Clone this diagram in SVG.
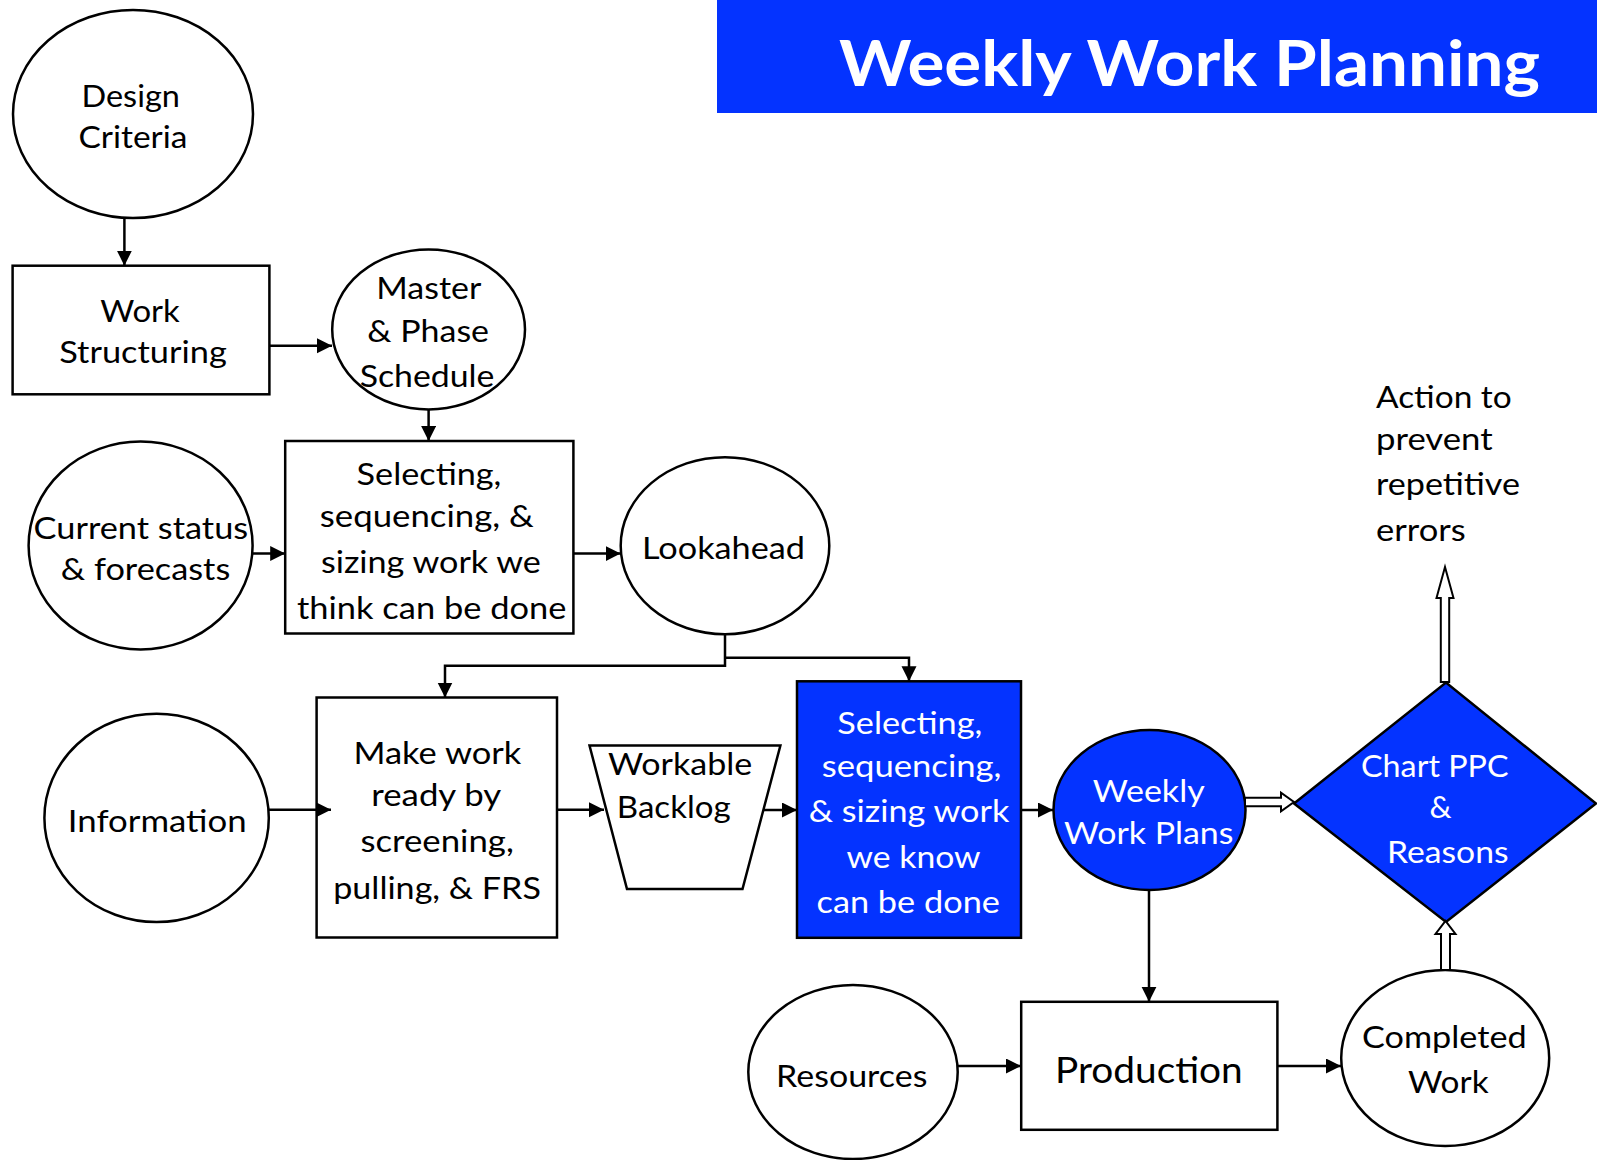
<svg xmlns="http://www.w3.org/2000/svg" width="1597" height="1160" viewBox="0 0 1597 1160">
<style>
.n{fill:#fff;stroke:#000;stroke-width:2.5}
.b{fill:#0433FF;stroke:#000;stroke-width:2.5}
.t{font-family:Lato,"Liberation Sans",sans-serif;font-size:31px;fill:#000;text-anchor:middle}
.w{fill:#fff}
.c{fill:none;stroke:#000;stroke-width:2.5}
.h{fill:#fff;stroke:#000;stroke-width:2;stroke-linejoin:miter}
</style>
<defs>
<marker id="ah" markerUnits="userSpaceOnUse" markerWidth="16" markerHeight="16" refX="15" refY="7.5" orient="auto" viewBox="0 0 16 16">
<path d="M0,0 L15,7.5 L0,15 z" fill="#000"/>
</marker>
</defs>
<rect width="1597" height="1160" fill="#fff"/>

<g id="title">
<rect x="717" y="0" width="880" height="113" fill="#0433FF"/>
<text x="1189.5" y="86" textLength="701" lengthAdjust="spacingAndGlyphs" style="font-family:Lato,'Liberation Sans',sans-serif;font-weight:bold;font-size:64px;fill:#fff;text-anchor:middle">Weekly Work Planning</text>
</g>

<g id="design-criteria">
<ellipse class="n" cx="133" cy="114" rx="120" ry="104"/>
<text class="t" x="130.7" y="106.7" textLength="98.4" lengthAdjust="spacingAndGlyphs">Design</text>
<text class="t" x="133" y="148.3" textLength="109" lengthAdjust="spacingAndGlyphs">Criteria</text>
</g>

<g id="work-structuring">
<rect class="n" x="12.6" y="265.7" width="256.8" height="128.6"/>
<text class="t" x="140" y="321.7" textLength="79.6" lengthAdjust="spacingAndGlyphs">Work</text>
<text class="t" x="143" y="363.3" textLength="167.6" lengthAdjust="spacingAndGlyphs">Structuring</text>
</g>

<g id="master-phase-schedule">
<ellipse class="n" cx="428.6" cy="329.4" rx="96.4" ry="80"/>
<text class="t" x="428.8" y="299" textLength="105" lengthAdjust="spacingAndGlyphs">Master</text>
<text class="t" x="428.2" y="342.3" textLength="121.7" lengthAdjust="spacingAndGlyphs">&amp; Phase</text>
<text class="t" x="427" y="386.7" textLength="134.7" lengthAdjust="spacingAndGlyphs">Schedule</text>
</g>

<g id="current-status">
<ellipse class="n" cx="140.6" cy="545.5" rx="112" ry="104"/>
<text class="t" x="140.9" y="538.8" textLength="214.6" lengthAdjust="spacingAndGlyphs">Current status</text>
<text class="t" x="145.5" y="580" textLength="169.6" lengthAdjust="spacingAndGlyphs">&amp; forecasts</text>
</g>

<g id="selecting-think">
<rect class="n" x="285.2" y="441" width="288.2" height="192.5"/>
<text class="t" x="429" y="485" textLength="144.8" lengthAdjust="spacingAndGlyphs">Selecting,</text>
<text class="t" x="426.8" y="527" textLength="214" lengthAdjust="spacingAndGlyphs">sequencing, &amp;</text>
<text class="t" x="430.9" y="573" textLength="220" lengthAdjust="spacingAndGlyphs">sizing work we</text>
<text class="t" x="431.7" y="619" textLength="269.4" lengthAdjust="spacingAndGlyphs">think can be done</text>
</g>

<g id="lookahead">
<ellipse class="n" cx="725" cy="545.7" rx="104.3" ry="88.5"/>
<text class="t" x="723.5" y="558.8" textLength="163" lengthAdjust="spacingAndGlyphs">Lookahead</text>
</g>

<g id="information">
<ellipse class="n" cx="156.6" cy="817.9" rx="112.2" ry="104.2"/>
<text class="t" x="157.2" y="832.2" textLength="178.8" lengthAdjust="spacingAndGlyphs">Information</text>
</g>

<g id="make-work-ready">
<rect class="n" x="316.6" y="697.5" width="240.4" height="240"/>
<text class="t" x="437.4" y="764.4" textLength="168" lengthAdjust="spacingAndGlyphs">Make work</text>
<text class="t" x="436.3" y="806" textLength="130" lengthAdjust="spacingAndGlyphs">ready by</text>
<text class="t" x="437.1" y="851.5" textLength="153.4" lengthAdjust="spacingAndGlyphs">screening,</text>
<text class="t" x="437.1" y="898.6" textLength="207.7" lengthAdjust="spacingAndGlyphs">pulling, &amp; FRS</text>
</g>

<g id="workable-backlog">
<polygon class="n" points="589.5,745.5 780.4,745.5 742.5,889 627,889"/>
<text class="t" x="680.1" y="774.7" textLength="144.3" lengthAdjust="spacingAndGlyphs">Workable</text>
<text class="t" x="673.7" y="817.7" textLength="113.8" lengthAdjust="spacingAndGlyphs">Backlog</text>
</g>

<g id="selecting-know">
<rect class="b" x="797" y="681.3" width="224" height="256.5"/>
<text class="t w" x="909.8" y="734" textLength="145" lengthAdjust="spacingAndGlyphs">Selecting,</text>
<text class="t w" x="911.6" y="777.3" textLength="179.8" lengthAdjust="spacingAndGlyphs">sequencing,</text>
<text class="t w" x="909" y="821.7" textLength="200.6" lengthAdjust="spacingAndGlyphs">&amp; sizing work</text>
<text class="t w" x="913.6" y="868.3" textLength="134" lengthAdjust="spacingAndGlyphs">we know</text>
<text class="t w" x="908.2" y="913.3" textLength="183.4" lengthAdjust="spacingAndGlyphs">can be done</text>
</g>

<g id="weekly-work-plans">
<ellipse class="b" cx="1149.5" cy="810" rx="96" ry="80"/>
<text class="t w" x="1148.7" y="801.7" textLength="112" lengthAdjust="spacingAndGlyphs">Weekly</text>
<text class="t w" x="1148.7" y="844.3" textLength="169.4" lengthAdjust="spacingAndGlyphs">Work Plans</text>
</g>

<g id="chart-ppc">
<polygon class="b" points="1294,803.5 1446,682.5 1596,803.5 1446,922"/>
<text class="t w" x="1434.8" y="776.7" textLength="147.5" lengthAdjust="spacingAndGlyphs">Chart PPC</text>
<text class="t w" x="1440.5" y="818.3">&amp;</text>
<text class="t w" x="1447.8" y="863.3" textLength="121.5" lengthAdjust="spacingAndGlyphs">Reasons</text>
</g>

<g id="action-label">
<text class="t" style="text-anchor:start" x="1376" y="407.7" textLength="135.7" lengthAdjust="spacingAndGlyphs">Action to</text>
<text class="t" style="text-anchor:start" x="1376" y="450" textLength="116.7" lengthAdjust="spacingAndGlyphs">prevent</text>
<text class="t" style="text-anchor:start" x="1376" y="495" textLength="144" lengthAdjust="spacingAndGlyphs">repetitive</text>
<text class="t" style="text-anchor:start" x="1376" y="541" textLength="89.7" lengthAdjust="spacingAndGlyphs">errors</text>
</g>

<g id="resources">
<ellipse class="n" cx="853" cy="1072" rx="104.7" ry="87"/>
<text class="t" x="851.7" y="1086.7" textLength="151.3" lengthAdjust="spacingAndGlyphs">Resources</text>
</g>

<g id="production">
<rect class="n" x="1021.2" y="1001.8" width="256.2" height="128"/>
<text class="t" style="font-size:37px" x="1148.9" y="1082.7" textLength="187.7" lengthAdjust="spacingAndGlyphs">Production</text>
</g>

<g id="completed-work">
<ellipse class="n" cx="1445.2" cy="1058" rx="104" ry="88"/>
<text class="t" x="1444.4" y="1048.3" textLength="164.7" lengthAdjust="spacingAndGlyphs">Completed</text>
<text class="t" x="1448.3" y="1093.3" textLength="80.7" lengthAdjust="spacingAndGlyphs">Work</text>
</g>

<g id="connectors">
<path class="c" d="M124.4,218 V265.7" marker-end="url(#ah)"/>
<path class="c" d="M269.4,345.7 H332" marker-end="url(#ah)"/>
<path class="c" d="M428.6,409.5 V441" marker-end="url(#ah)"/>
<path class="c" d="M252.6,553.6 H285.2" marker-end="url(#ah)"/>
<path class="c" d="M573.4,553.6 H620.6" marker-end="url(#ah)"/>
<path class="c" d="M725,634 V665.7 H445 V697.5" marker-end="url(#ah)"/>
<path class="c" d="M725,657.7 H909 V681.3" marker-end="url(#ah)"/>
<path class="c" d="M268.8,809.8 H331" marker-end="url(#ah)"/>
<path class="c" d="M557,809.8 H604" marker-end="url(#ah)"/>
<path class="c" d="M764,810 H797" marker-end="url(#ah)"/>
<path class="c" d="M1021,810 H1053" marker-end="url(#ah)"/>
<path class="c" d="M1149,890 V1001.8" marker-end="url(#ah)"/>
<path class="c" d="M957.7,1066 H1021" marker-end="url(#ah)"/>
<path class="c" d="M1277.6,1066 H1341" marker-end="url(#ah)"/>
<polygon class="h" points="1245,797.8 1281,797.8 1281,792.7 1294,802 1281,811.3 1281,806.2 1245,806.2"/>
<polygon class="h" points="1440.8,682 1440.8,598 1436.5,598 1445,567 1453.5,598 1449.2,598 1449.2,682"/>
<polygon class="h" points="1441,970 1441,934 1435.5,934 1445.5,921 1455.5,934 1450,934 1450,970"/>
</g>
</svg>
